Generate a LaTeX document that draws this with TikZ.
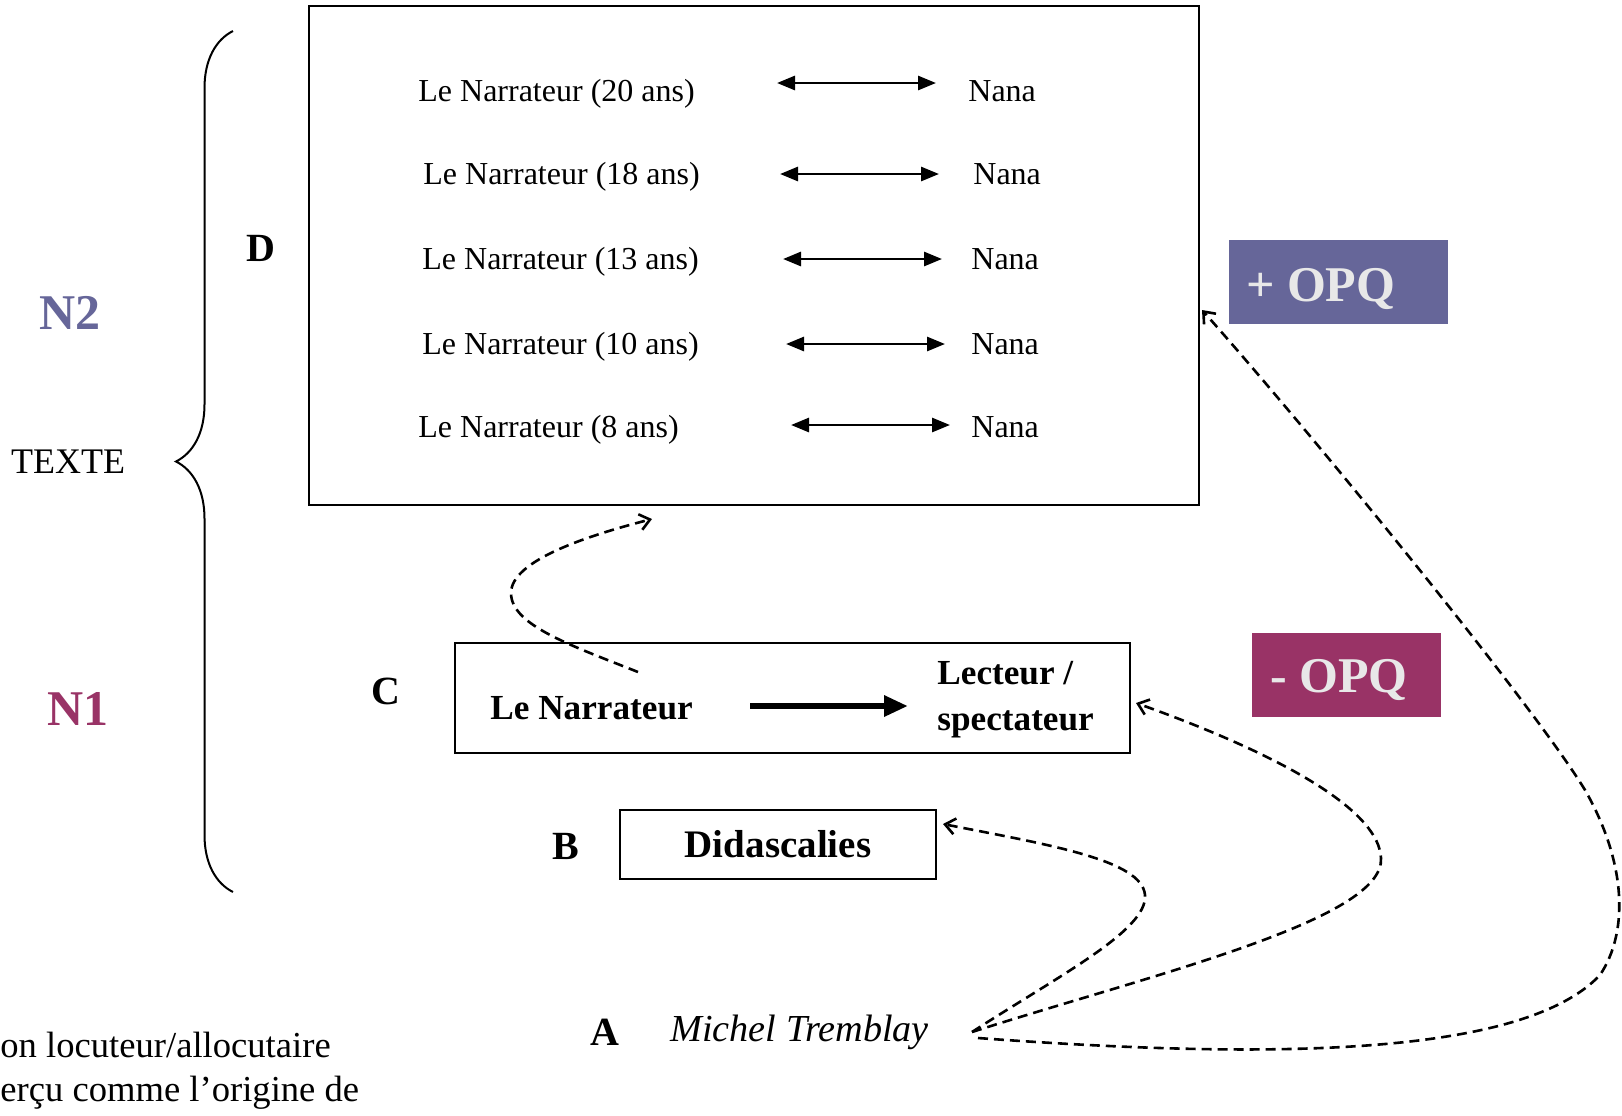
\documentclass[tikz,border=0pt]{standalone}
\usepackage{fontspec}
\setmainfont{Liberation Serif}
\usetikzlibrary{arrows.meta,decorations.pathreplacing,positioning}

\definecolor{nplus}{HTML}{666699}
\definecolor{nminus}{HTML}{993366}
\definecolor{opqtext}{HTML}{E8E8E8}

\tikzset{
  box/.style={draw, line width=1pt, inner sep=0pt},
  row/.style={font=\fontsize{16}{19}\selectfont, inner sep=0pt},
  bigbf/.style={font=\fontsize{19.5}{23}\selectfont\bfseries, inner sep=0pt},
  midbf/.style={font=\fontsize{17.6}{23}\selectfont\bfseries, inner sep=0pt},
  tag/.style={font=\fontsize{20}{22}\selectfont\bfseries, inner sep=0pt},
  level/.style={font=\fontsize{25}{28}\selectfont\bfseries, inner sep=0pt},
  opq/.style={fill, minimum height=42pt, inner sep=0pt},
  opqtxt/.style={font=\fontsize{25}{28}\selectfont\bfseries, text=opqtext, inner sep=0pt},
  body/.style={font=\fontsize{18.3}{20}\selectfont, inner sep=0pt},
  talk/.style={line width=1.4pt, {Triangle[length=9pt,width=7pt]}-{Triangle[length=9pt,width=7pt]}},
  link/.style={dash pattern=on 5pt off 3pt, line width=1.3pt, -{Straight Barb[length=5pt,width=8pt]}}
}

\begin{document}
\begin{tikzpicture}[x=0.5pt, y=-0.5pt]
\useasboundingbox (0,0) rectangle (1622,1115);

% boxes
\node[box, minimum width=445pt, minimum height=249.5pt] (boxD) at (754,255.5) {};
\node[box, minimum width=337.5pt, minimum height=55pt] (boxC) at (792.5,698) {};
\node[box, bigbf, minimum width=158pt, minimum height=34.5pt] (boxB) at (778,844.5) {Didascalies};

% rows in box D
\foreach \age/\y/\ay/\lx/\ax/\nx in {20/91/83/418/0/968, 18/174/174/423/3/973, 13/259/259/422/6/971, 10/344/344/422/9/971, 8/427/425/418/14/971}{
  \node[row, anchor=west] (nar\age) at (\lx,\y+3) {Le Narrateur (\age\ ans)};
  \node[row, anchor=west] (nana\age) at (\nx,\y) {Nana};
  \coordinate (l\age) at (777+\ax,\ay);
  \coordinate (r\age) at (936+\ax,\ay);
  \draw[talk] (l\age) -- (r\age);
}

% levels and brace
\node[level, text=nplus] (n2) at (70,313) {N2};
\node[font=\fontsize{18}{20}\selectfont, inner sep=0pt] (texte) at (68,462) {TEXTE};
\node[level, text=nminus] (n1) at (78,709) {N1};
\coordinate (braceB) at (233,892);
\coordinate (braceT) at (233,31);
\draw[line width=1pt, decorate, decoration={brace, amplitude=28.5pt}] (braceB) -- (braceT);

% letters
\node[tag] (tagD) at (261,248) {D};
\node[tag] (tagC) at (386,691) {C};
\node[tag] (tagB) at (566,846) {B};
\node[tag] (tagA) at (605,1032) {A};
\node[font=\fontsize{19.1}{22}\selectfont\itshape, inner sep=0pt, anchor=west] (mt) at (670,1032) {Michel Tremblay};

% box C
\node[midbf, anchor=west] (narC) at (490,708) {Le Narrateur};
\node[midbf, anchor=west, align=left] (lect) at (937,700) {Lecteur /\\spectateur};
\coordinate (thS) at (750,706);
\coordinate (thE) at (908,706);
\draw[line width=3pt, -{Triangle[length=12pt,width=10pt]}] (thS) -- (thE);

% OPQ
\node[opq, fill=nplus, minimum width=109.5pt] (plus) at (1338.5,282) {};
\node[opqtxt, anchor=west] (plustxt) at ([xshift=8.5pt,yshift=-3.5pt]plus.west) {+ OPQ};
\node[opq, fill=nminus, minimum width=94.5pt] (minus) at (1346.5,675) {};
\node[opqtxt, anchor=west] (minustxt) at ([xshift=9pt,yshift=-2.5pt]minus.west) {- OPQ};

% cut text
\node[body, anchor=west] (tail1) at (0,1045) {on locuteur/allocutaire};
\node[body, anchor=west] (tail2) at (0,1093) {erçu comme l’origine de};

% dashed links
\coordinate (srcN) at (638,672);
\coordinate (dstD) at (652,519);
\draw[link] (srcN) .. controls (570,645) and (511,625) .. (511,593) .. controls (511,560) and (590,535) .. (dstD);
\coordinate (srcA) at (972,1032);
\coordinate (srcA2) at (978,1038);
\coordinate (dstB) at (943,824);
\coordinate (dstC) at (1136,703);
\coordinate (dstE) at (1202,310);
\draw[link] (srcA) .. controls (1060,975) and (1148,930) .. (1145,895) .. controls (1142,860) and (1050,845) .. (dstB);
\draw[link] (srcA) .. controls (1150,975) and (1385,920) .. (1381,858) .. controls (1378,800) and (1240,740) .. (dstC);
\draw[link] (srcA2) .. controls (1250,1058) and (1520,1060) .. (1600,975) .. controls (1630,930) and (1625,860) .. (1585,790) .. controls (1530,700) and (1300,420) .. (dstE);

\end{tikzpicture}
\end{document}
